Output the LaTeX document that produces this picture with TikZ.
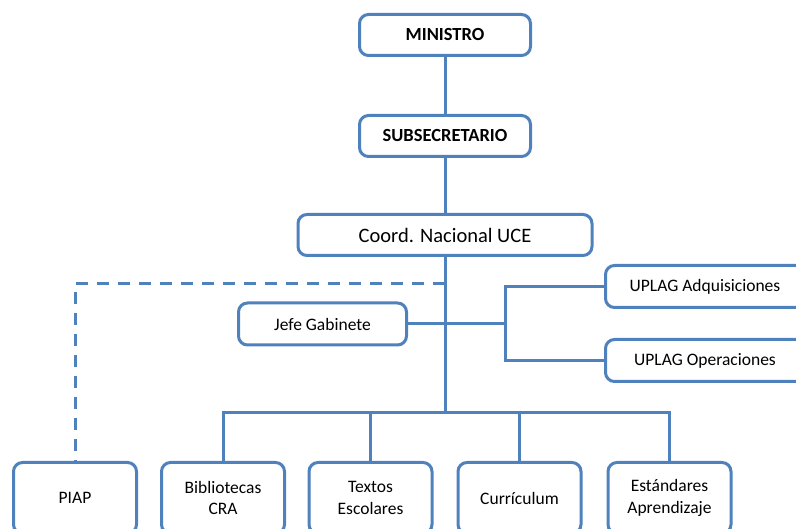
\documentclass[tikz,border=0pt]{standalone}
\usepackage{fontspec}
\setmainfont{Carlito}
\definecolor{orgblue}{RGB}{79,129,189}
\begin{document}
\begin{tikzpicture}[x=1pt,y=-1pt,
  box/.style={draw=orgblue, line width=3pt, fill=white, rounded corners=9pt,
    inner sep=0pt, align=center, text=black,
    font=\fontsize{17.5}{21.5}\selectfont},
  headbox/.style={box, font=\bfseries\fontsize{18.5}{22}\selectfont,
    minimum width=171pt, minimum height=41pt},
  unitbox/.style={box, minimum width=123pt, minimum height=71pt},
  link/.style={draw=orgblue, line width=3pt},
  dashlink/.style={link, dash pattern=on 12pt off 9pt}]
\useasboundingbox (0,0) rectangle (796,529);
\clip (0,0) rectangle (796,529);

% top of the hierarchy
\node[headbox] (min) at (445,35) {MINISTRO};
\node[headbox] (sub) at (445,136) {SUBSECRETARIO};
\node[box, font=\fontsize{20.5}{24}\selectfont,
  minimum width=294pt, minimum height=41pt] (coord) at (445,235) {Coord. Nacional UCE};

% staff units
\node[box, minimum width=168pt, minimum height=42pt] (jefe) at (322.5,324) {Jefe Gabinete};
\node[box, minimum width=199pt, minimum height=42pt] (upa) at (705,286.5) {UPLAG Adquisiciones};
\node[box, minimum width=199pt, minimum height=42pt] (upo) at (705,360.5) {UPLAG Operaciones};

% line units
\node[unitbox] (piap) at (75,498) {PIAP};
\node[unitbox] (bib) at (223,498) {Bibliotecas\\CRA};
\node[unitbox] (tex) at (370.5,498) {Textos\\Escolares};
\node[unitbox] (cur) at (519.5,498) {Currículum};
\node[unitbox] (est) at (669.5,498) {Estándares\\Aprendizaje};

% helper levels
\coordinate (busY) at (0,413);
\coordinate (dashY) at (0,284);
\coordinate (fork) at (505,0);

% connectors
\draw[link] (min) -- (sub);
\draw[link] (sub) -- (coord);
\draw[link] (coord.south) -- (coord.south |- busY);
\draw[link] (jefe.east) -- (jefe.east -| fork);
\draw[link] (upa.west) -- (upa.west -| fork) -- (upo.west -| fork) -- (upo.west);
\draw[link] (bib.north) -- (bib.north |- busY) -- (est.north |- busY) -- (est.north);
\draw[link] (tex.north) -- (tex.north |- busY);
\draw[link] (cur.north) -- (cur.north |- busY);
\draw[dashlink] (coord.south |- dashY) -| (piap.north);
\end{tikzpicture}
\end{document}
